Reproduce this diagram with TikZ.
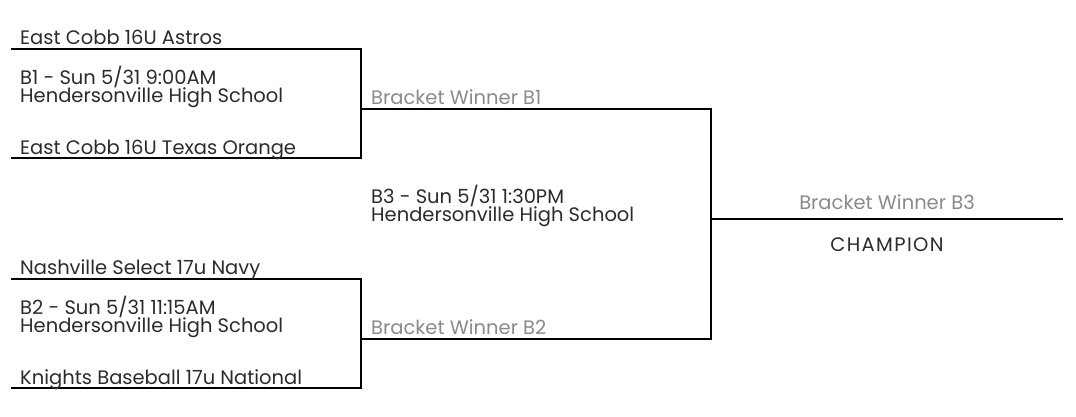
\documentclass[tikz,border=0pt]{standalone}
\usepackage{fontspec}
\setmainfont{Poppins}
\definecolor{txt}{HTML}{2B2B2B}
\definecolor{win}{HTML}{8A8A8A}
\newcommand\bracketfont{\fontsize{19.5}{18}\selectfont\lineskiplimit=-100pt\relax}
\begin{document}
\begin{tikzpicture}[x=1pt,y=-1pt,
  line/.style={draw=black,line width=2pt,line cap=rect},
  lbl/.style={anchor=base west,inner sep=0pt,text=txt,font=\bracketfont},
  game/.style={lbl,align=left},
  wlbl/.style={lbl,text=win}]
\useasboundingbox (0,0) rectangle (1076,416);
% coordinates
\coordinate (a1) at (12,49);
\coordinate (a2) at (361,49);
\coordinate (b1) at (12,158);
\coordinate (b2) at (361,158);
\coordinate (w1a) at (361,109);
\coordinate (w1b) at (711,109);
\coordinate (c1) at (12,279);
\coordinate (c2) at (361,279);
\coordinate (d1) at (12,388);
\coordinate (d2) at (361,388);
\coordinate (w2a) at (361,339);
\coordinate (w2b) at (711,339);
\coordinate (fa) at (711,219);
\coordinate (fb) at (1062,219);
% lines
\draw[line] (a1) -- (a2) -- (b2) -- (b1);
\draw[line] (c1) -- (c2) -- (d2) -- (d1);
\draw[line] (w1a) -- (w1b) -- (w2b) -- (w2a);
\draw[line] (fa) -- (fb);
% labels
\node[lbl] (t1) at (20,44) {East Cobb 16U Astros};
\node[game] (g1) at (20,102) {B1 - Sun 5/31 9:00AM\\Hendersonville High School};
\node[lbl] (t2) at (20,154) {East Cobb 16U Texas Orange};
\node[lbl] (t3) at (20,274) {Nashville Select 17u Navy};
\node[game] (g2) at (20,332) {B2 - Sun 5/31 11:15AM\\Hendersonville High School};
\node[lbl] (t4) at (20,384) {Knights Baseball 17u National};
\node[wlbl] (wb1) at (371,104) {Bracket Winner B1};
\node[wlbl] (wb2) at (371,334) {Bracket Winner B2};
\node[game] (g3) at (371,221) {B3 - Sun 5/31 1:30PM\\Hendersonville High School};
\node[wlbl,anchor=base] (wb3) at (887,209) {Bracket Winner B3};
\node[lbl,anchor=base,font=\bracketfont\addfontfeature{LetterSpace=7}] (ch) at (887,251) {CHAMPION};
\end{tikzpicture}
\end{document}
